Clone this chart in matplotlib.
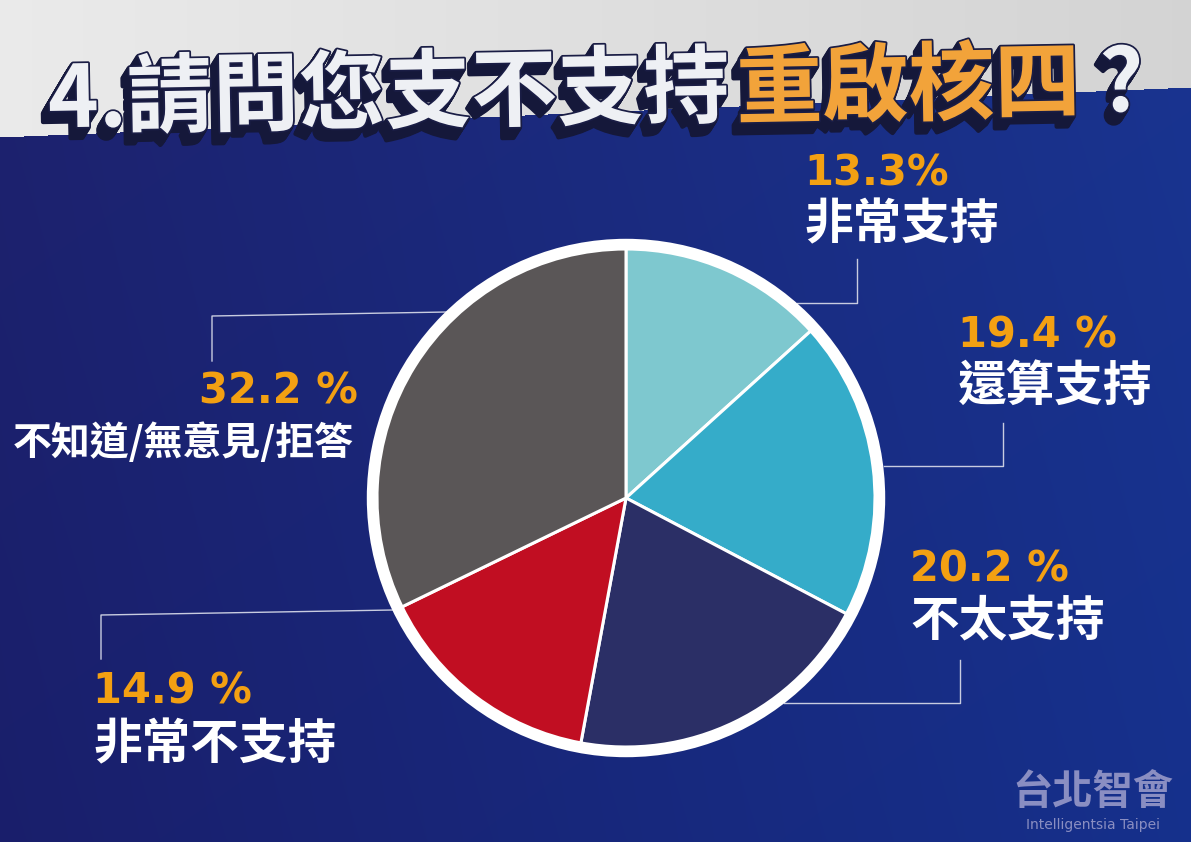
import numpy as np
import matplotlib
matplotlib.use("Agg")
import matplotlib.pyplot as plt
import matplotlib.patheffects as pe
from matplotlib.patches import Circle

plt.rcParams['font.family'] = ['Noto Sans CJK TC', 'DejaVu Sans']

# data
categories = ["非常支持", "還算支持", "不太支持", "非常不支持", "不知道/無意見/拒答"]
values = [13.3, 19.4, 20.2, 14.9, 32.2]
pct_labels = ["13.3%", "19.4 %", "20.2 %", "14.9 %", "32.2 %"]
colors = ["#7ec8cf", "#35acc9", "#2b2f66", "#c10e22", "#5a5657"]

W, H = 1191, 842
fig = plt.figure(figsize=(W / 100, H / 100), dpi=100)

# background in pixel coordinates
bg = fig.add_axes([0, 0, 1, 1])
bg.set_xlim(0, W)
bg.set_ylim(H, 0)
bg.axis("off")

xx = np.linspace(0, 1, W)[None, :]
yy = np.linspace(0, 1, H)[:, None]
navy_l = np.array([0.10, 0.12, 0.42])
navy_r = np.array([0.085, 0.19, 0.55])
img = navy_l + (navy_r - navy_l) * xx[..., None] * np.ones((H, 1, 1))
img = img + 0.015 * (1 - yy[..., None])
gray = (0.92 - 0.09 * xx[..., None]) * np.ones((H, 1, 3))
edge = 137 - 50 * np.arange(W) / W
mask = np.arange(H)[:, None] < edge[None, :]
img[mask] = gray[mask]
bg.imshow(np.clip(img, 0, 1), extent=(0, W, H, 0), aspect="auto", zorder=0)

# title with a 3D extrusion, pieces placed one after another
extrude = [pe.Stroke(linewidth=3, foreground="#15183a", offset=(-k * 0.5, -k * 0.8))
           for k in range(10, 0, -1)]
title_fx = extrude + [pe.Stroke(linewidth=2.5, foreground="#1a1d45"), pe.Normal()]
title_parts = [("4.請問您支不支持", "#eef0f4", 0),
               ("重啟核四", "#f2a33a", 6),
               ("?", "#eef0f4", 18)]
renderer = fig.canvas.get_renderer()
x0 = 48
for txt, col, gap in title_parts:
    x0 += gap
    t = bg.text(x0, 103 - 18 * x0 / W, txt, color=col, fontsize=62, fontweight="heavy",
                ha="left", va="center", rotation=1.0, rotation_mode="anchor",
                path_effects=title_fx, zorder=5)
    bb = t.get_window_extent(renderer)
    x0 = bb.x1 * W / fig.bbox.width

# pie chart
cx, cy, r_in, half = 626, 498, 249, 264
pax = fig.add_axes([(cx - half) / W, (H - cy - half) / H, 2 * half / W, 2 * half / H])
pax.pie(values, colors=colors, startangle=90, counterclock=False, radius=1.0,
        wedgeprops=dict(edgecolor="white", linewidth=2.2))
pax.add_patch(Circle((0, 0), 254 / r_in, fill=False, edgecolor="white", linewidth=7.5))
lim = half / r_in
pax.set_xlim(-lim, lim)
pax.set_ylim(-lim, lim)
pax.set_aspect("equal")
pax.axis("off")

# leader lines (pixel coordinates)
leaders = [
    [(797, 303), (857, 303), (857, 259)],
    [(884, 466), (1003, 466), (1003, 423)],
    [(784, 703), (960, 703), (960, 660)],
    [(393, 610), (101, 615), (101, 659)],
    [(447, 312), (212, 316), (212, 361)],
]
for pts in leaders:
    px, py = zip(*pts)
    bg.plot(px, py, color="#c8cce0", linewidth=1.0, zorder=3)

# labels
orange = "#f3a012"
label_pos = [
    (804, 173, 225, "left"),
    (958, 335, 386, "left"),
    (910, 570, 621, "left"),
    (93, 692, 745, "left"),
    (358, 392, 443, "right"),
]
for i, (x, yp, yl, ha) in enumerate(label_pos):
    bg.text(x, yp, pct_labels[i], color=orange, fontsize=30, fontweight="bold",
            family=["DejaVu Sans"], ha=ha, va="center", zorder=4)
    fs = 28 if i == 4 else 35
    bg.text(x if ha == "left" else x - 4, yl, categories[i], color="white",
            fontsize=fs, fontweight="heavy", ha=ha, va="center", zorder=4)

# watermark
bg.text(1093, 793, "台北智會", color="#8a8ec2", fontsize=29, fontweight="bold",
        ha="center", va="center", zorder=4)
bg.text(1093, 825, "Intelligentsia Taipei", color="#8a8ec2", fontsize=10,
        family=["DejaVu Sans"], ha="center", va="center", zorder=4)

fig.savefig("out.png", dpi=100)
